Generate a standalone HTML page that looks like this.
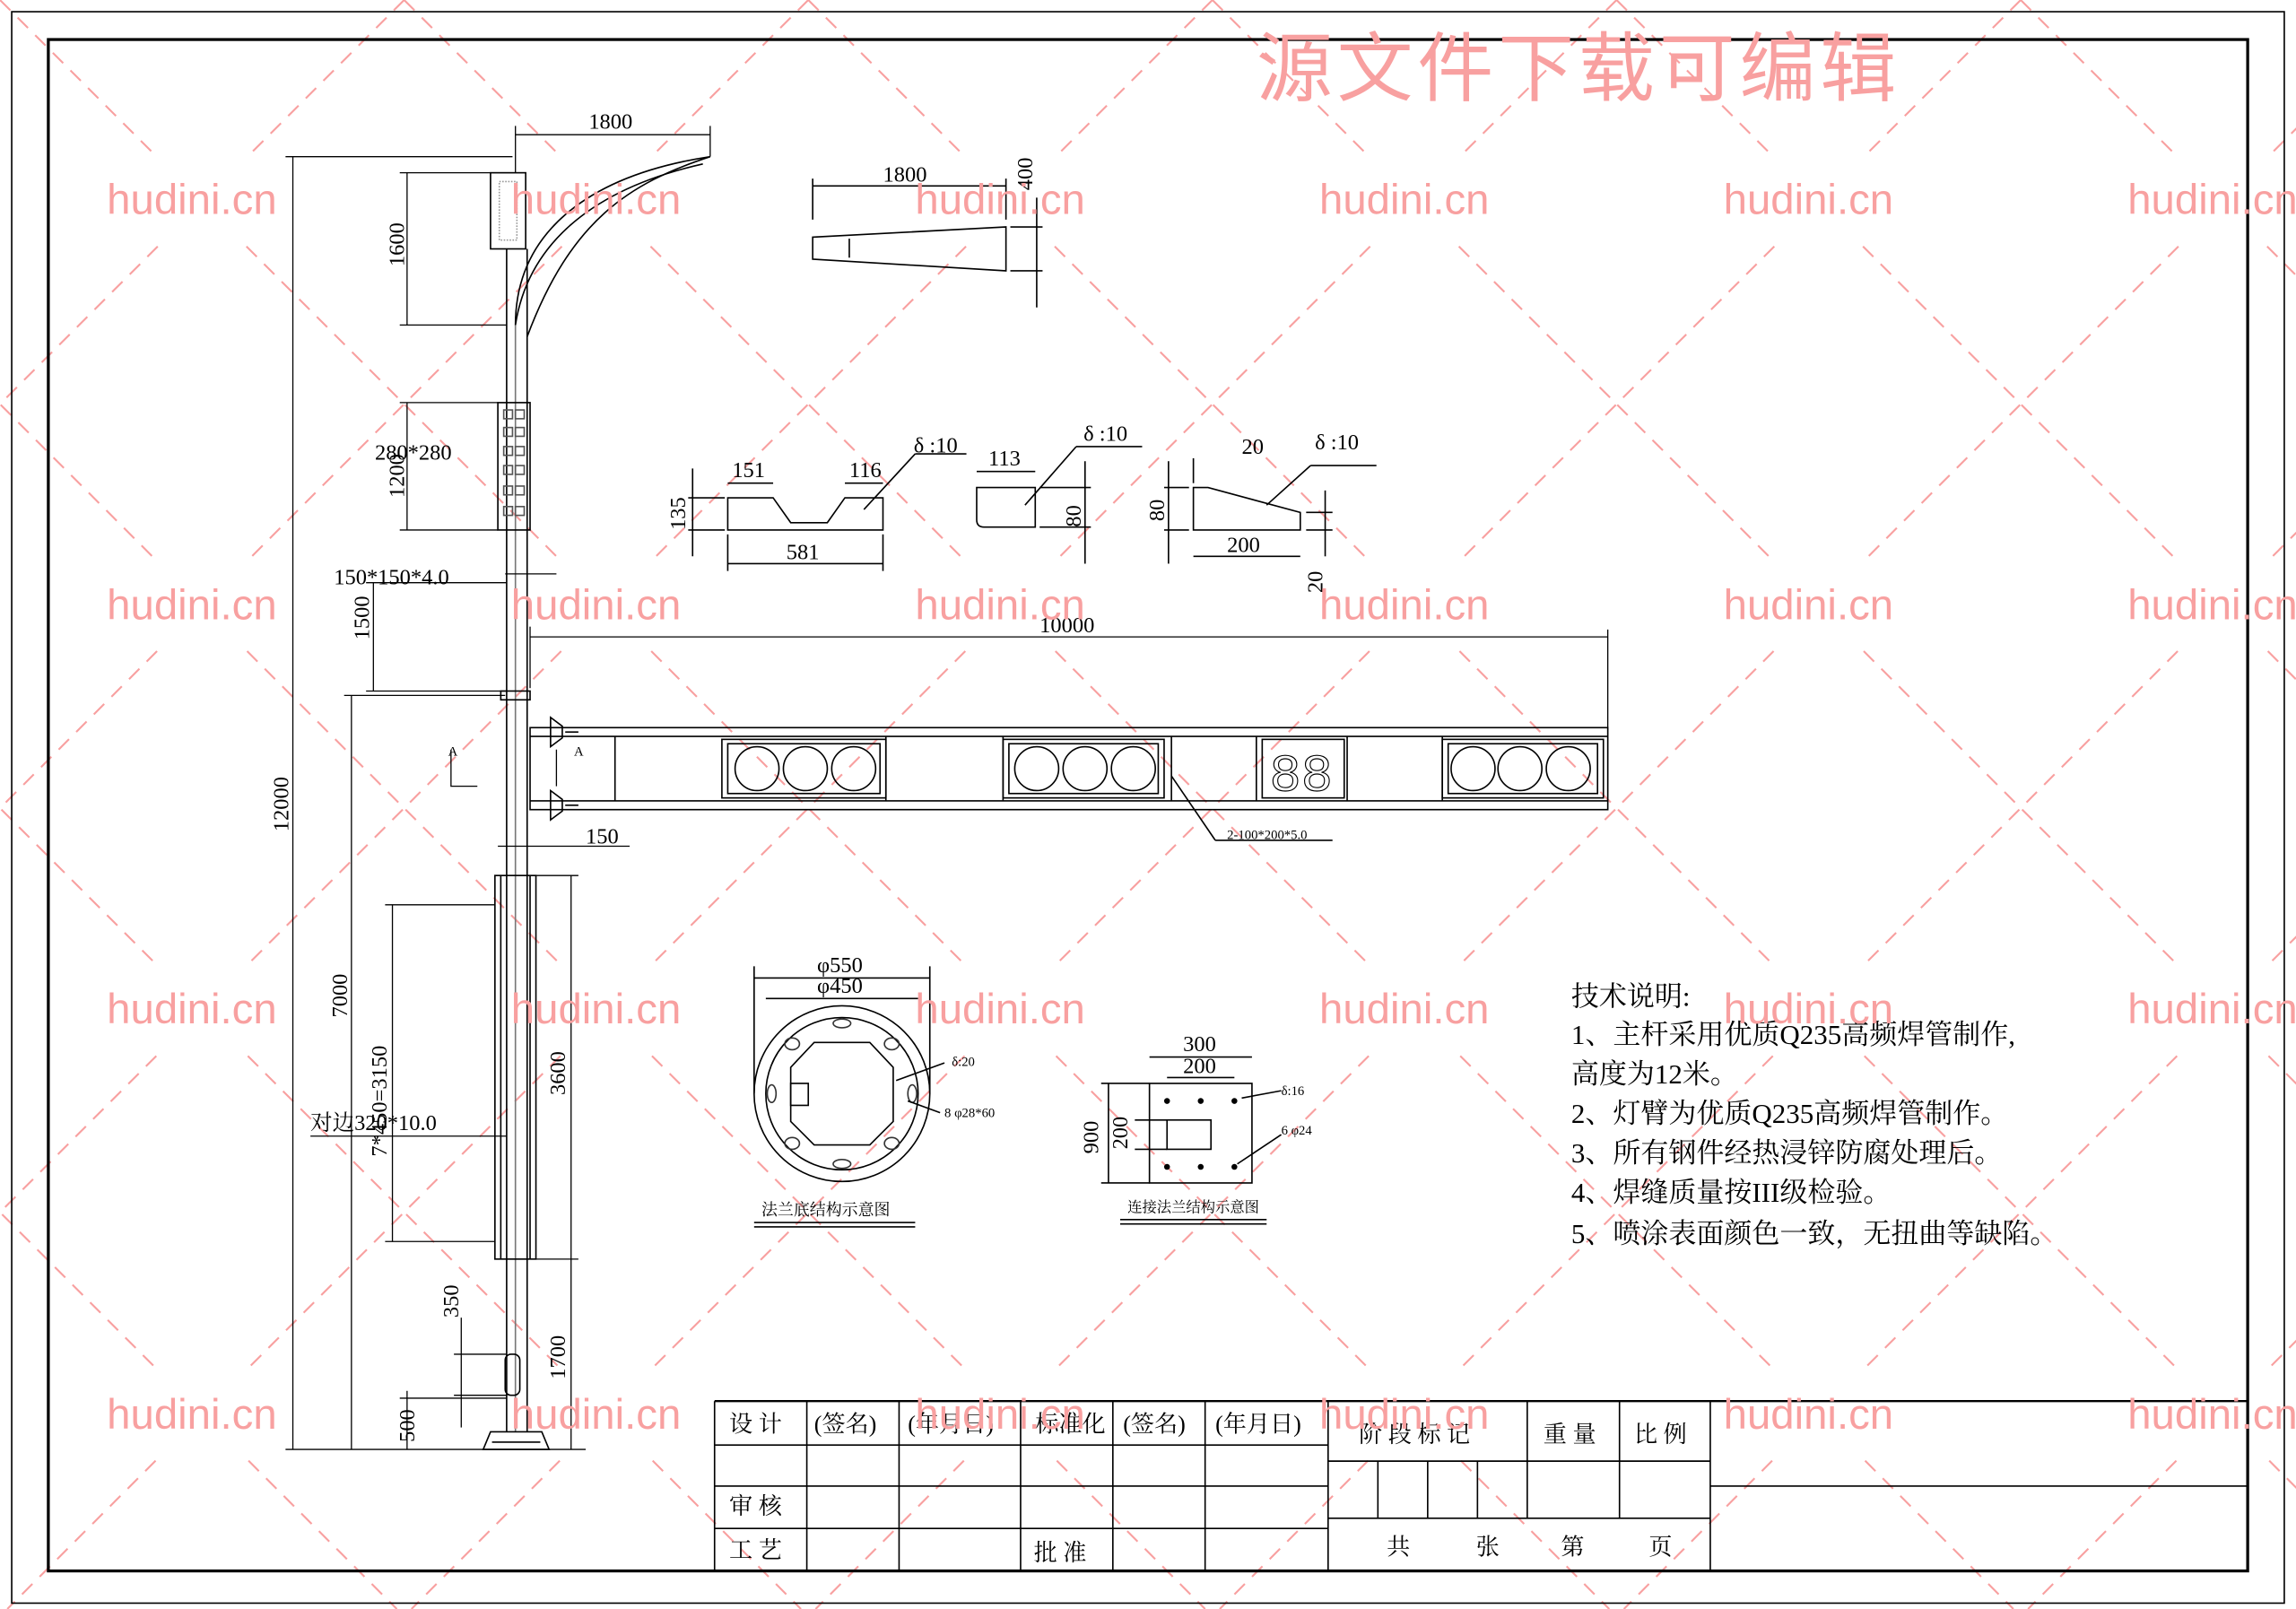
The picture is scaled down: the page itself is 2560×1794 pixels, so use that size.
<!DOCTYPE html>
<html><head><meta charset="utf-8"><style>
html,body{margin:0;padding:0;background:#fff;width:2560px;height:1794px;overflow:hidden}
svg{display:block}
text{font-family:"Liberation Serif","Noto Serif CJK SC","Noto Sans CJK SC",serif;fill:#000}
g.wm text{font-family:"Liberation Sans",sans-serif;fill:#f8a0a0;font-size:29px}
</style></head><body>
<svg width="2560" height="1794" viewBox="0 0 1568 1099" preserveAspectRatio="none" xmlns="http://www.w3.org/2000/svg">
<rect width="1568" height="1099" fill="#fff"/>
<!-- watermark lines -->
<g stroke="#f8a0a0" stroke-width="1.3" stroke-dasharray="10 7" fill="none">
<path d="M-552 0 L547 1099 M-276 0 L823 1099 M0 0 L1099 1099 M276 0 L1375 1099 M552 0 L1651 1099 M828 0 L1927 1099 M1104 0 L2203 1099 M1380 0 L2479 1099 M-828 0 L271 1099"/>
<path d="M276 0 L-823 1099 M552 0 L-547 1099 M828 0 L-271 1099 M1104 0 L5 1099 M1380 0 L281 1099 M1656 0 L557 1099 M1932 0 L833 1099 M2208 0 L1109 1099 M2484 0 L1385 1099"/>
</g>
<g fill="#fff">
<rect x="72" y="106" width="130" height="58"/><rect x="348" y="106" width="130" height="58"/><rect x="624" y="106" width="130" height="58"/><rect x="900" y="106" width="130" height="58"/><rect x="1176" y="106" width="130" height="58"/><rect x="1452" y="106" width="130" height="58"/>
<rect x="72" y="383" width="130" height="58"/><rect x="348" y="383" width="130" height="58"/><rect x="624" y="383" width="130" height="58"/><rect x="900" y="383" width="130" height="58"/><rect x="1176" y="383" width="130" height="58"/><rect x="1452" y="383" width="130" height="58"/>
<rect x="72" y="659" width="130" height="58"/><rect x="348" y="659" width="130" height="58"/><rect x="624" y="659" width="130" height="58"/><rect x="900" y="659" width="130" height="58"/><rect x="1176" y="659" width="130" height="58"/><rect x="1452" y="659" width="130" height="58"/>
<rect x="72" y="936" width="130" height="58"/><rect x="348" y="936" width="130" height="58"/><rect x="624" y="936" width="130" height="58"/><rect x="900" y="936" width="130" height="58"/><rect x="1176" y="936" width="130" height="58"/><rect x="1452" y="936" width="130" height="58"/>
</g>
<!-- frames -->
<g fill="none" stroke="#000">
<rect x="8" y="8" width="1552" height="1087" stroke-width="1"/>
<rect x="33" y="27" width="1502" height="1046" stroke-width="2"/>
<path d="M33 137 V27 H118" stroke-width="0.8" transform="translate(0,0)"/>
</g>
<!-- pole -->
<g fill="none" stroke="#000" stroke-width="1">
<line x1="346" y1="170" x2="346" y2="978"/><line x1="360" y1="170" x2="360" y2="978"/>
<line x1="352" y1="222" x2="352" y2="978" stroke="#777"/>
<path d="M335 978 L330 990 L375 990 L370 978 Z"/>
<line x1="336" y1="985" x2="369" y2="985"/>
<path d="M352 222 C352 160 400 120 485 107 C430 125 390 150 360 230"/>
<path d="M352 222 C360 170 400 130 480 112"/>
<rect x="335" y="118" width="24" height="52"/>
<rect x="341" y="124" width="12" height="40" stroke="#999" stroke-dasharray="1 1"/>
<rect x="340" y="275" width="22" height="87"/>
<g stroke="#555"><rect x="344" y="280" width="6" height="6"/><rect x="352" y="280" width="6" height="6"/><rect x="344" y="292" width="6" height="6"/><rect x="352" y="292" width="6" height="6"/><rect x="344" y="305" width="6" height="6"/><rect x="352" y="305" width="6" height="6"/><rect x="344" y="318" width="6" height="6"/><rect x="352" y="318" width="6" height="6"/><rect x="344" y="332" width="6" height="6"/><rect x="352" y="332" width="6" height="6"/><rect x="344" y="346" width="6" height="6"/><rect x="352" y="346" width="6" height="6"/></g>
<rect x="338" y="598" width="28" height="262"/>
<line x1="342" y1="598" x2="342" y2="860"/><line x1="362" y1="598" x2="362" y2="860"/>
<rect x="342" y="472" width="20" height="6"/>
<rect x="345" y="925" width="10" height="28" rx="4"/>
<!-- arm -->
<rect x="362" y="497" width="736" height="56"/>
<line x1="362" y1="503" x2="1098" y2="503"/><line x1="362" y1="547" x2="1098" y2="547"/>
<path d="M376 490 l8 6 v8 l-8 6 z M376 540 l8 6 v8 l-8 6z"/>
<line x1="386" y1="500" x2="395" y2="500"/><line x1="386" y1="550" x2="395" y2="550"/>
<line x1="420" y1="503" x2="420" y2="547"/><line x1="605" y1="503" x2="605" y2="547"/><line x1="685" y1="503" x2="685" y2="547"/><line x1="800" y1="503" x2="800" y2="547"/><line x1="858" y1="503" x2="858" y2="547"/><line x1="920" y1="503" x2="920" y2="547"/><line x1="985" y1="503" x2="985" y2="547"/>
<rect x="493" y="505" width="112" height="40"/><rect x="497" y="508" width="104" height="34"/>
<circle cx="517" cy="525" r="15"/><circle cx="550" cy="525" r="15"/><circle cx="583" cy="525" r="15"/>
<rect x="685" y="505" width="110" height="40"/><rect x="689" y="508" width="102" height="34"/>
<circle cx="708" cy="525" r="15"/><circle cx="741" cy="525" r="15"/><circle cx="774" cy="525" r="15"/>
<rect x="862" y="505" width="56" height="40"/>
<rect x="985" y="505" width="110" height="40"/><rect x="989" y="508" width="102" height="34"/>
<circle cx="1006" cy="525" r="15"/><circle cx="1038" cy="525" r="15"/><circle cx="1071" cy="525" r="15"/>
<line x1="800" y1="530" x2="830" y2="574"/><line x1="830" y1="574" x2="910" y2="574"/>
<g stroke-width="0.8">
<line x1="195" y1="107" x2="350" y2="107"/><line x1="195" y1="990" x2="400" y2="990"/>
<line x1="200" y1="107" x2="200" y2="990"/>
<line x1="235" y1="475" x2="345" y2="475"/><line x1="240" y1="475" x2="240" y2="990"/>
<line x1="273" y1="118" x2="335" y2="118"/><line x1="273" y1="222" x2="346" y2="222"/><line x1="278" y1="118" x2="278" y2="222"/>
<line x1="273" y1="275" x2="340" y2="275"/><line x1="273" y1="362" x2="340" y2="362"/><line x1="278" y1="275" x2="278" y2="362"/>
<line x1="250" y1="398" x2="346" y2="398"/><line x1="255" y1="398" x2="255" y2="472"/><line x1="250" y1="472" x2="346" y2="472"/>
<line x1="263" y1="618" x2="338" y2="618"/><line x1="263" y1="848" x2="338" y2="848"/><line x1="268" y1="618" x2="268" y2="848"/>
<line x1="310" y1="925" x2="346" y2="925"/><line x1="310" y1="953" x2="346" y2="953"/><line x1="315" y1="900" x2="315" y2="975"/>
<line x1="273" y1="955" x2="346" y2="955"/><line x1="278" y1="950" x2="278" y2="990"/>
<line x1="366" y1="598" x2="395" y2="598"/><line x1="366" y1="860" x2="395" y2="860"/><line x1="390" y1="598" x2="390" y2="990"/>
<line x1="362" y1="435" x2="1098" y2="435"/><line x1="1098" y1="430" x2="1098" y2="497"/><line x1="362" y1="428" x2="362" y2="470"/>
<line x1="352" y1="92" x2="485" y2="92"/><line x1="352" y1="86" x2="352" y2="118"/><line x1="485" y1="86" x2="485" y2="107"/>
<line x1="340" y1="578" x2="430" y2="578"/><line x1="212" y1="776" x2="346" y2="776"/>
<line x1="345" y1="392" x2="380" y2="392"/>
<path d="M308 512 v25 h18 M380 512 v25" fill="none"/>
</g>
<!-- small top arm -->
<path d="M555 162 L555 177 L687 185 L687 155 Z"/><line x1="580" y1="163" x2="580" y2="176"/>
<line x1="555" y1="127" x2="687" y2="127"/><line x1="555" y1="122" x2="555" y2="150"/><line x1="687" y1="122" x2="687" y2="150"/>
<line x1="708" y1="135" x2="708" y2="210"/><line x1="690" y1="155" x2="712" y2="155"/><line x1="690" y1="185" x2="712" y2="185"/>
<!-- plates -->
<path d="M497 340 L528 340 L540 357 L565 357 L577 340 L603 340 L603 362 L497 362 Z"/>
<line x1="497" y1="330" x2="528" y2="330"/><line x1="577" y1="330" x2="603" y2="330"/>
<line x1="497" y1="385" x2="603" y2="385"/><line x1="497" y1="365" x2="497" y2="390"/><line x1="603" y1="365" x2="603" y2="390"/>
<line x1="470" y1="340" x2="495" y2="340"/><line x1="470" y1="362" x2="495" y2="362"/><line x1="473" y1="320" x2="473" y2="380"/>
<line x1="590" y1="348" x2="625" y2="310"/><line x1="625" y1="310" x2="660" y2="310"/>
<path d="M667 333 L707 333 L707 360 L672 360 Q667 360 667 355 Z"/>
<line x1="667" y1="322" x2="707" y2="322"/><line x1="700" y1="345" x2="735" y2="305"/><line x1="735" y1="305" x2="780" y2="305"/>
<line x1="710" y1="333" x2="745" y2="333"/><line x1="710" y1="360" x2="745" y2="360"/><line x1="741" y1="315" x2="741" y2="385"/>
<path d="M815 333 L825 333 L888 350 L888 362 L815 362 Z"/>
<line x1="795" y1="333" x2="812" y2="333"/><line x1="795" y1="362" x2="812" y2="362"/><line x1="798" y1="315" x2="798" y2="385"/>
<line x1="815" y1="313" x2="815" y2="330"/><line x1="815" y1="380" x2="888" y2="380"/>
<line x1="865" y1="345" x2="895" y2="318"/><line x1="895" y1="318" x2="940" y2="318"/>
<line x1="892" y1="350" x2="910" y2="350"/><line x1="892" y1="362" x2="910" y2="362"/><line x1="905" y1="335" x2="905" y2="380"/>
<!-- flange -->
<circle cx="575" cy="747" r="60"/><circle cx="575" cy="747" r="52"/>
<polygon points="556,712 594,712 610,729 610,766 594,782 556,782 540,766 540,729"/>
<g stroke="#333"><ellipse cx="575" cy="699" rx="6" ry="3"/><ellipse cx="575" cy="795" rx="6" ry="3"/><ellipse cx="527" cy="747" rx="3" ry="6"/><ellipse cx="623" cy="747" rx="3" ry="6"/><ellipse cx="541" cy="713" rx="5" ry="4"/><ellipse cx="609" cy="713" rx="5" ry="4"/><ellipse cx="541" cy="781" rx="5" ry="4"/><ellipse cx="609" cy="781" rx="5" ry="4"/></g>
<rect x="540" y="740" width="12" height="15"/>
<line x1="515" y1="668" x2="635" y2="668"/><line x1="515" y1="660" x2="515" y2="747"/><line x1="635" y1="660" x2="635" y2="747"/>
<line x1="523" y1="682" x2="627" y2="682"/>
<line x1="612" y1="738" x2="645" y2="726"/><line x1="620" y1="752" x2="642" y2="760"/>
<line x1="515" y1="835" x2="625" y2="835"/><line x1="515" y1="838" x2="625" y2="838"/>
<rect x="785" y="740" width="70" height="68"/><rect x="797" y="765" width="30" height="20"/>
<line x1="785" y1="722" x2="855" y2="722"/><line x1="797" y1="736" x2="843" y2="736"/>
<line x1="752" y1="740" x2="785" y2="740"/><line x1="752" y1="808" x2="785" y2="808"/><line x1="757" y1="740" x2="757" y2="808"/>
<line x1="775" y1="765" x2="797" y2="765"/><line x1="775" y1="785" x2="797" y2="785"/>
<line x1="845" y1="795" x2="875" y2="775"/><line x1="848" y1="750" x2="875" y2="745"/>
<line x1="765" y1="833" x2="865" y2="833"/><line x1="765" y1="836" x2="865" y2="836"/>
</g>
<g fill="#000"><circle cx="797" cy="752" r="2"/><circle cx="843" cy="752" r="2"/><circle cx="797" cy="797" r="2"/><circle cx="843" cy="797" r="2"/><circle cx="820" cy="752" r="2"/><circle cx="820" cy="797" r="2"/></g>
<text x="867" y="540" font-size="36" style="fill:none;stroke:#000;stroke-width:0.7;font-family:'Liberation Mono',monospace">88</text>
<g font-size="15">
<text x="402" y="88">1800</text><text x="603" y="124">1800</text>
<text x="228" y="399">150*150*4.0</text><text x="256" y="314">280*280</text>
<text x="710" y="432">10000</text><text x="400" y="576">150</text>
<text x="212" y="772">对边320*10.0</text>
<text x="558" y="664">φ550</text><text x="558" y="678">φ450</text>
<text x="808" y="718">300</text><text x="808" y="733">200</text>
<text x="500" y="326">151</text><text x="580" y="326">116</text><text x="537" y="382">581</text>
<text x="624" y="309">δ :10</text><text x="675" y="318">113</text><text x="740" y="301">δ :10</text>
<text x="848" y="310">20</text><text x="898" y="307">δ :10</text><text x="838" y="377">200</text>
</g>
<g font-size="15">
<text transform="translate(197,568) rotate(-90)">12000</text>
<text transform="translate(237,695) rotate(-90)">7000</text>
<text transform="translate(276,182) rotate(-90)">1600</text>
<text transform="translate(276,340) rotate(-90)">1200</text>
<text transform="translate(252,437) rotate(-90)">1500</text>
<text transform="translate(264,790) rotate(-90)">7*450=3150</text>
<text transform="translate(313,900) rotate(-90)">350</text>
<text transform="translate(283,985) rotate(-90)">500</text>
<text transform="translate(386,748) rotate(-90)">3600</text>
<text transform="translate(386,942) rotate(-90)">1700</text>
<text transform="translate(705,130) rotate(-90)">400</text>
<text transform="translate(468,362) rotate(-90)">135</text>
<text transform="translate(738,360) rotate(-90)">80</text>
<text transform="translate(795,356) rotate(-90)">80</text>
<text transform="translate(903,405) rotate(-90)">20</text>
<text transform="translate(750,788) rotate(-90)">900</text>
<text transform="translate(770,785) rotate(-90)">200</text>
</g>
<g font-size="9">
<text x="838" y="573">2-100*200*5.0</text><text x="306" y="516">A</text><text x="392" y="516">A</text>
<text x="650" y="728">δ:20</text><text x="645" y="763">8 φ28*60</text>
<text x="875" y="748">δ:16</text><text x="875" y="775">6 φ24</text>
<text x="520" y="830" font-size="11">法兰底结构示意图</text><text x="770" y="828" font-size="10">连接法兰结构示意图</text>
</g>
<g font-size="19">
<text x="1073" y="687">技术说明:</text>
<text x="1073" y="713">1、主杆采用优质Q235高频焊管制作,</text>
<text x="1073" y="740">高度为12米。</text>
<text x="1073" y="767">2、灯臂为优质Q235高频焊管制作。</text>
<text x="1073" y="794">3、所有钢件经热浸锌防腐处理后。</text>
<text x="1073" y="821">4、焊缝质量按III级检验。</text>
<text x="1073" y="849">5、喷涂表面颜色一致，无扭曲等缺陷。</text>
</g>
<!-- title block -->
<g fill="none" stroke="#000" stroke-width="1">
<line x1="488" y1="957" x2="1535" y2="957" stroke-width="1.5"/>
<line x1="488" y1="957" x2="488" y2="1073"/>
<line x1="488" y1="987" x2="907" y2="987"/><line x1="488" y1="1015" x2="907" y2="1015"/><line x1="488" y1="1044" x2="907" y2="1044"/>
<line x1="551" y1="957" x2="551" y2="1073"/><line x1="614" y1="957" x2="614" y2="1073"/><line x1="697" y1="957" x2="697" y2="1073"/><line x1="760" y1="957" x2="760" y2="1073"/><line x1="823" y1="957" x2="823" y2="1073"/><line x1="907" y1="957" x2="907" y2="1073"/>
<line x1="907" y1="998" x2="1168" y2="998"/><line x1="907" y1="1037" x2="1168" y2="1037"/>
<line x1="941" y1="998" x2="941" y2="1037"/><line x1="975" y1="998" x2="975" y2="1037"/><line x1="1009" y1="998" x2="1009" y2="1037"/>
<line x1="1043" y1="957" x2="1043" y2="1037"/><line x1="1106" y1="957" x2="1106" y2="1037"/><line x1="1168" y1="957" x2="1168" y2="1073"/>
<line x1="1168" y1="1015" x2="1535" y2="1015"/>
</g>
<g font-size="16">
<text x="498" y="978">设 计</text><text x="556" y="978">(签名)</text><text x="620" y="978">(年月日)</text><text x="707" y="978">标准化</text><text x="767" y="978">(签名)</text><text x="830" y="978">(年月日)</text>
<text x="928" y="985">阶 段 标 记</text><text x="1054" y="985">重 量</text><text x="1116" y="985">比 例</text>
<text x="498" y="1034">审 核</text><text x="498" y="1064">工 艺</text><text x="706" y="1066">批 准</text>
<text x="947" y="1062">共</text><text x="1008" y="1062">张</text><text x="1066" y="1062">第</text><text x="1126" y="1062">页</text>
</g>
<g class="wm">
<text x="73" y="146">hudini.cn</text><text x="349" y="146">hudini.cn</text><text x="625" y="146">hudini.cn</text><text x="901" y="146">hudini.cn</text><text x="1177" y="146">hudini.cn</text><text x="1453" y="146">hudini.cn</text>
<text x="73" y="423">hudini.cn</text><text x="349" y="423">hudini.cn</text><text x="625" y="423">hudini.cn</text><text x="901" y="423">hudini.cn</text><text x="1177" y="423">hudini.cn</text><text x="1453" y="423">hudini.cn</text>
<text x="73" y="699">hudini.cn</text><text x="349" y="699">hudini.cn</text><text x="625" y="699">hudini.cn</text><text x="901" y="699">hudini.cn</text><text x="1177" y="699">hudini.cn</text><text x="1453" y="699">hudini.cn</text>
<text x="73" y="976">hudini.cn</text><text x="349" y="976">hudini.cn</text><text x="625" y="976">hudini.cn</text><text x="901" y="976">hudini.cn</text><text x="1177" y="976">hudini.cn</text><text x="1453" y="976">hudini.cn</text>
</g>
<text x="858" y="65" font-size="52" textLength="437" style="fill:#f8a0a0;font-family:'Noto Sans CJK SC',sans-serif">源文件下载可编辑</text>
</svg>
</body></html>
